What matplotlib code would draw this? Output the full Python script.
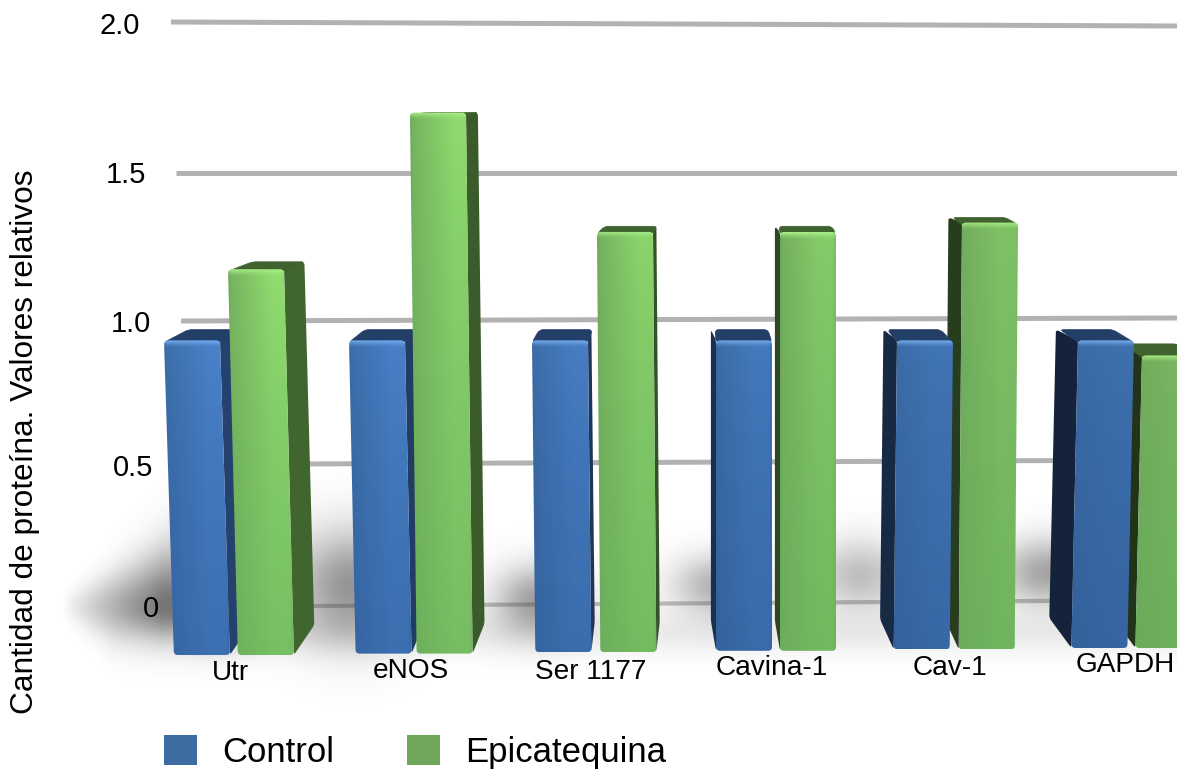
import numpy as np
import matplotlib
matplotlib.use("Agg")
import matplotlib.pyplot as plt
from matplotlib.patches import Patch, PathPatch
from matplotlib.path import Path

plt.rcParams['font.family'] = ['Liberation Sans', 'DejaVu Sans']

# values
groups = ['Utr', 'eNOS', 'Ser 1177', 'Cavina-1', 'Cav-1', 'GAPDH']
control = [0.97, 0.97, 0.97, 0.97, 0.97, 0.97]
epicatequina = [1.20, 1.70, 1.32, 1.32, 1.35, 0.92]
ticks = [0, 0.5, 1.0, 1.5, 2.0]
tick_labels = ['0', '0.5', '1.0', '1.5', '2.0']

# layout of the fake 3d scene, pixels
tick_left_y = [606, 464, 321, 173, 22]
tick_right_y = [600, 460, 318, 173, 26]
tick_text_x = [159, 153, 151, 146, 140]
tick_text_y = [609, 468, 324, 175, 26]
grid_start = [310, 300, 181, 176, 171]
group_text_x = [230, 411, 591, 772, 950, 1125]
group_text_y = [673, 671, 672, 668, 668, 665]
blue_x = [164, 349, 532, 716, 897, 1078]
green_x = [228, 410, 597, 780, 962, 1142]
bar_w = 56
# soft floor shadow spots between the bars: x, y, x spread, y spread, strength
shadow_spots = [(350, 585, 55, 55, 0.55), (537, 600, 42, 34, 0.50), (718, 585, 45, 30, 0.40),
                (860, 575, 48, 36, 0.33), (1048, 572, 50, 33, 0.47)]

W, H = 1177, 774


def rgb(c):
    return np.array(matplotlib.colors.to_rgb(c))


def back_y(v):
    return np.interp(v, ticks, tick_left_y)


def front_top(v):
    return 113 + 1.05 * (back_y(v) - 113)


def rounded(points, r):
    # closed polygon path with curved corners
    pts = [np.array(p, dtype=float) for p in points]
    verts, codes = [], []
    n = len(pts)
    for k in range(n):
        p, prev, nxt = pts[k], pts[k - 1], pts[(k + 1) % n]
        a = p + (prev - p) / max(np.linalg.norm(prev - p), 1e-6) * min(r, np.linalg.norm(prev - p) / 2)
        b = p + (nxt - p) / max(np.linalg.norm(nxt - p), 1e-6) * min(r, np.linalg.norm(nxt - p) / 2)
        verts += [a, p, b]
        codes += [Path.MOVETO if k == 0 else Path.LINETO, Path.CURVE3, Path.CURVE3]
    verts.append(verts[0])
    codes.append(Path.CLOSEPOLY)
    return Path(verts, codes)


def front_img(colors, i, w, h):
    # left to right ramp, fades toward the bottom, bright strip on top
    top_l, top_r, bot_l, bot_r, light = [rgb(c) for c in colors]
    dull = (i / 5) ** 1.5 * 0.7
    top_r = top_r + (top_l - top_r) * dull
    bot_r = bot_r + (bot_l - bot_r) * dull
    xs = np.interp(np.linspace(0, 1, w), [0, 0.04, 0.7, 0.94, 1], [0.0, 0.25, 1, 1, 0.6])[:, None]
    ys = np.linspace(0, 1, h)[:, None, None] ** 0.7
    top = top_l + (top_r - top_l) * xs
    bot = bot_l + (bot_r - bot_l) * xs
    img = top[None, :, :] * (1 - ys) + bot[None, :, :] * ys
    n = 7
    for r in range(n):
        a = (1 - r / n) ** 1.5
        img[r] = img[r] * (1 - a) + light * a
    return np.clip(img, 0, 1)


def draw_bar(ax, v, i, x0, colors, side_col, top_col, z):
    shift = (3 - i) * 3.3          # bars lean toward the middle of the picture
    d = (2.4 - i) * 8.5            # side face depth
    ft = front_top(v)
    fb = 655 - 1.4 * i
    bt = back_y(v)
    bb = fb - 30
    x1 = x0 + bar_w
    xb0, xb1 = x0 + shift, x1 + shift
    # side and top faces
    if d >= 0:
        side = [(x1, ft), (xb1, fb), (xb1 + d, bb), (x1 + d, bt)]
    else:
        side = [(x0, ft), (xb0, fb), (xb0 + d, bb), (x0 + d, bt)]
    ax.add_patch(PathPatch(rounded(side, 3), fc=side_col, ec='none', zorder=z))
    tp = [(x0, ft + 2), (x1, ft + 2), (x1 + d + 1, bt), (x0 + d + 4, bt)]
    ax.add_patch(PathPatch(rounded(tp, 4), fc=top_col, ec=top_col, lw=0.5, zorder=z))
    # front face with gradient
    front = PathPatch(rounded([(x0, ft), (x1, ft), (xb1, fb), (xb0, fb)], 4),
                      fc='none', ec='none', zorder=z + 0.1)
    ax.add_patch(front)
    l, r = min(x0, xb0), max(x1, xb1)
    img = front_img(colors, i, int(r - l) + 1, int(fb - ft) + 1)
    im = ax.imshow(img, extent=(l, r, fb, ft), aspect='auto', zorder=z + 0.1,
                   interpolation='bilinear')
    im.set_clip_path(front)


fig = plt.figure(figsize=(W / 100, H / 100), dpi=100)
ax = fig.add_axes([0, 0, 1, 1])

# blurred floor shadow
yy, xx = np.mgrid[0:H, 0:W]
spread = np.clip(14 + (xx - 65) * 0.42, 1, 60)
spread = np.where(yy > 606, np.minimum(spread, 34), spread)
ramp = np.clip((xx - 62) / 100.0, 0, 1) ** 0.9
shade = np.exp(-((yy - 606) / spread) ** 2) * ramp * 0.72
shade = np.where(xx > 200, shade * np.exp(-((xx - 200) / 60.0) ** 2), shade)
for cx, cy, sx, sy, a in shadow_spots:
    shade += np.exp(-((xx - cx) / sx) ** 2 - ((yy - cy) / sy) ** 2) * a
shade += np.exp(-((yy - 632) / 22.0) ** 2) * np.clip((xx - 170) / 40.0, 0, 1) * 0.10
shadow = np.zeros((H, W, 4))
shadow[..., :3] = 0.25
shadow[..., 3] = np.clip(shade, 0, 0.75)
ax.imshow(shadow, extent=(0, W, H, 0), aspect='auto', zorder=2)

# gridlines
for t, yl, yr, x0 in zip(ticks, tick_left_y, tick_right_y, grid_start):
    lw = 3.0 if t == 0 else 3.6
    col = '#c2c2c2' if t == 0 else '#b2b2b2'
    ax.plot([x0, W], [yl, yr], color=col, lw=lw, solid_capstyle='butt', zorder=1)

for t, lab, x, y in zip(ticks, tick_labels, tick_text_x, tick_text_y):
    ax.text(x, y, lab, ha='right', va='center', fontsize=21, color='black', zorder=8)

blue = ('#3a6aa3', '#4b82ca', '#33609a', '#3d70b2', '#74aef0')
green = ('#6ea65b', '#93df70', '#6aaa5b', '#77bf62', '#a8ee88')

for i in range(len(groups)):
    t = i / 5
    side_b = rgb('#25426e') + (rgb('#15233a') - rgb('#25426e')) * t
    side_g = rgb('#41652f') + (rgb('#22331a') - rgb('#41652f')) * t
    z_blue = 5 if i < 3 else 6
    z_green = 6 if i < 3 else 5
    draw_bar(ax, control[i], i, blue_x[i], blue, side_b, '#233f68', z_blue)
    draw_bar(ax, epicatequina[i], i, green_x[i], green, side_g, '#3f622e', z_green)

for g, x, y in zip(groups, group_text_x, group_text_y):
    ax.text(x, y, g, ha='center', va='center', fontsize=20.2, color='black', zorder=8)

ax.text(25, 442, 'Cantidad de proteína. Valores relativos', rotation=90,
        ha='center', va='center', fontsize=22.8, color='black')

handles = [Patch(fc='#3d6ca3', ec='none', label='Control'),
           Patch(fc='#6fa65c', ec='none', label='Epicatequina')]
ax.legend(handles=handles, loc='lower left', bbox_to_anchor=(164 / W, 5 / H), ncol=2,
          frameon=False, fontsize=25, handlelength=0.95, handleheight=0.95,
          handletextpad=0.72, columnspacing=2.1, borderpad=0, borderaxespad=0)

ax.set_xlim(0, W)
ax.set_ylim(H, 0)
ax.axis('off')

fig.savefig('out.png', dpi=100, facecolor='white')
